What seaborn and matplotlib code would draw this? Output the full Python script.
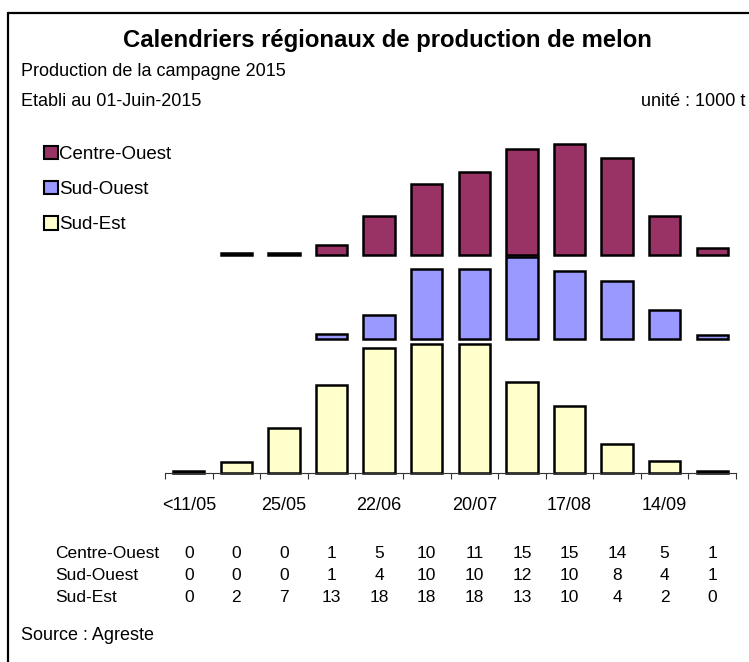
import numpy as np
import pandas as pd
import matplotlib
matplotlib.use("Agg")
import matplotlib.pyplot as plt
import matplotlib.transforms as mtransforms
from matplotlib.patches import Patch
from matplotlib.lines import Line2D
import seaborn as sns

# ── Data ─────────────────────────────────────────────────────────────────────
periods = ["<11/05", "11/05", "25/05", "08/06", "22/06", "06/07",
           "20/07", "03/08", "17/08", "31/08", "14/09", "28/09"]
shown_ticks = ["<11/05", "25/05", "22/06", "20/07", "17/08", "14/09"]

regions = ["Centre-Ouest", "Sud-Ouest", "Sud-Est"]

# bar heights (1000 t); nan = no bar drawn
centre_ouest = [np.nan, 0.35, 0.35, 1.4, 5.6, 10.1, 11.8, 15.1, 15.9, 13.8, 5.6, 1.0]
sud_ouest    = [np.nan, np.nan, np.nan, 0.8, 3.5, 10.0, 10.0, 11.7, 9.7, 8.3, 4.2, 0.6]
sud_est      = [0.35, 1.6, 6.5, 12.6, 17.8, 18.5, 18.5, 13.0, 9.6, 4.1, 1.7, 0.35]

# rounded values printed in the table
tab_centre_ouest = [0, 0, 0, 1, 5, 10, 11, 15, 15, 14, 5, 1]
tab_sud_ouest    = [0, 0, 0, 1, 4, 10, 10, 12, 10, 8, 4, 1]
tab_sud_est      = [0, 2, 7, 13, 18, 18, 18, 13, 10, 4, 2, 0]

colors = {"Centre-Ouest": "#993366", "Sud-Ouest": "#9999FF", "Sud-Est": "#FFFFCC"}

# ── Figure ───────────────────────────────────────────────────────────────────
W, H = 749, 662
sns.set_theme(style="white")
plt.rcParams["font.family"] = ["Liberation Sans", "DejaVu Sans"]
plt.rcParams["text.color"] = "black"
plt.rcParams["xtick.color"] = "black"
plt.rcParams["xtick.labelcolor"] = "black"

fig = plt.figure(figsize=(W / 100, H / 100), dpi=100)


def fx(px):
    return px / W


def fy(py):
    return 1 - py / H


PX_PER_UNIT = 7.0
X0, X1 = 165, 736
# (series, values, baseline px, top px)
rows = [
    ("Centre-Ouest", centre_ouest, 255, 130),
    ("Sud-Ouest", sud_ouest, 339.3, 255),
    ("Sud-Est", sud_est, 473, 339.3),
]

axes = []
for name, vals, base, top in rows:
    ax = fig.add_axes([fx(X0), fy(base), fx(X1) - fx(X0), (base - top) / H])
    df = pd.DataFrame({"period": periods, "value": vals})
    sns.barplot(data=df, x="period", y="value", order=periods, ax=ax,
                color=colors[name], edgecolor="black", linewidth=1.8,
                width=0.66, saturation=1)
    for p in ax.patches:
        p.set_clip_on(False)
    ax.set_xlim(-0.5, len(periods) - 0.5)
    ax.set_ylim(0, (base - top) / PX_PER_UNIT)
    ax.set_xlabel("")
    ax.set_ylabel("")
    ax.set_yticks([])
    ax.set_facecolor("none")
    for s in ax.spines.values():
        s.set_visible(False)
    ax.set_xticks([])
    axes.append(ax)

# bottom axis with ticks at period boundaries
ax = axes[-1]
ax.spines["bottom"].set_visible(True)
ax.spines["bottom"].set_color("#333333")
ax.spines["bottom"].set_linewidth(0.8)
ax.set_xticks(np.arange(-0.5, len(periods)), labels=[""] * (len(periods) + 1))
ax.tick_params(axis="x", which="major", direction="out", length=4.5,
               width=0.8, color="#333333", bottom=True)
ax.set_xticks([periods.index(t) for t in shown_ticks], labels=shown_ticks,
              minor=True)
ax.tick_params(axis="x", which="minor", length=0, pad=17, labelsize=13,
               labelcolor="black")

# data table below the chart
table_rows = [("Centre-Ouest", tab_centre_ouest, 553),
              ("Sud-Ouest", tab_sud_ouest, 575),
              ("Sud-Est", tab_sud_est, 597)]
trans = mtransforms.blended_transform_factory(ax.transData, fig.transFigure)
for label, vals, py in table_rows:
    fig.text(fx(55), fy(py), label, ha="left", va="center", fontsize=12.5)
    for i, v in enumerate(vals):
        ax.text(i, fy(py), f"{v}", transform=trans, ha="center",
                va="center", fontsize=12.5, clip_on=False)

# titles
fig.text(fx(387), fy(40), "Calendriers régionaux de production de melon",
         ha="center", va="center", fontsize=17.2, fontweight="bold")
fig.text(fx(21), fy(72), "Production de la campagne 2015", ha="left",
         va="center", fontsize=13)
fig.text(fx(21), fy(101), "Etabli au 01-Juin-2015", ha="left", va="center",
         fontsize=13)
fig.text(fx(641), fy(101), "unité : 1000 t", ha="left", va="center",
         fontsize=13)
fig.text(fx(21), fy(635), "Source : Agreste", ha="left", va="center",
         fontsize=13)

# legend
handles = [Patch(facecolor=colors[r], edgecolor="black", linewidth=1.5)
           for r in regions]
fig.legend(handles, regions, loc="upper left",
           bbox_to_anchor=(fx(36), fy(138)), frameon=False, fontsize=13.5,
           handlelength=0.75, handleheight=0.75, handletextpad=0.1,
           labelspacing=0.95, borderaxespad=0)

# frame lines (top and left only)
fig.add_artist(Line2D([fx(8), 1], [fy(13), fy(13)], color="black", lw=1.6))
fig.add_artist(Line2D([fx(8), fx(8)], [fy(13), 0], color="black", lw=1.6))

fig.savefig("out.png", dpi=100)
